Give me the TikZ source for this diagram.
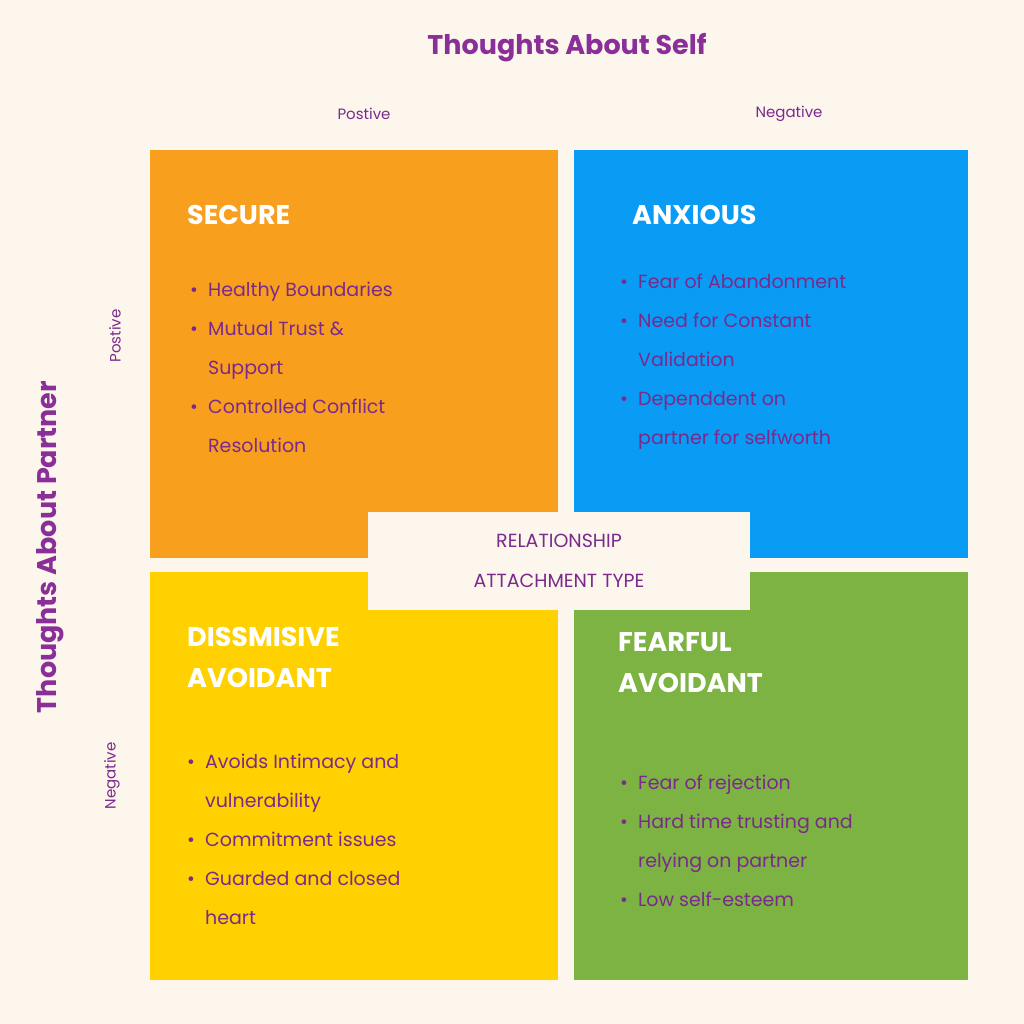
\documentclass[tikz,border=0pt]{standalone}
\usepackage{fontspec}
\setmainfont{Poppins}
\usetikzlibrary{positioning}
\definecolor{cream}{HTML}{FDF6EC}
\definecolor{titlepurple}{HTML}{8A2E98}
\definecolor{textpurple}{HTML}{7A2A8C}
\definecolor{secureorange}{HTML}{F89F1E}
\definecolor{anxiousblue}{HTML}{0A9BF4}
\definecolor{dismissyellow}{HTML}{FFD100}
\definecolor{fearfulgreen}{HTML}{7DB343}
\newcommand{\bodyfont}{\fontsize{19}{39}\selectfont}
\newcommand{\bl}{\textbullet}
\begin{document}
\begin{tikzpicture}
        [x=1pt,y=-1pt,
         every node/.style={inner sep=0pt},
         quadrant/.style={draw=none},
         heading/.style={anchor=north west,text=white,font=\fontsize{27}{41}\selectfont\bfseries,align=left},
         bodylist/.style={anchor=north west,text=textpurple,font=\bodyfont,align=left},
         axislabel/.style={text=textpurple,font=\fontsize{15}{18}\selectfont}]
        \useasboundingbox[fill=cream] (0,0) rectangle (1024,1024);
        % quadrants
        \fill[secureorange] (150,150) rectangle (558,558);
        \fill[anxiousblue] (574,150) rectangle (968,558);
        \fill[dismissyellow] (150,572) rectangle (558,980);
        \fill[fearfulgreen] (574,572) rectangle (968,980);
        \node[fill=cream,minimum width=382,minimum height=98] (center) at (559,561) {};
        \node[text=textpurple,font=\fontsize{19}{40}\selectfont,align=center] (ctext) at (center) {RELATIONSHIP\\ATTACHMENT TYPE};
        % axes
        \node[text=titlepurple,font=\fontsize{27}{30}\selectfont\bfseries] (selftitle) at (567,48) {Thoughts About Self};
        \node[text=titlepurple,font=\fontsize{27}{30}\selectfont\bfseries,rotate=90] (partnertitle) at (50,547) {Thoughts About Partner};
        \node[axislabel] (selfpos) at (364,114) {Postive};
        \node[axislabel] (selfneg) at (789,114) {Negative};
        \node[axislabel,rotate=90] (partpos) at (115,336) {Postive};
        \node[axislabel,rotate=90] (partneg) at (112,776) {Negative};
        % headings
        \node[heading] (secure) at (187,205) {SECURE};
        \node[heading] (anxious) at (632,205) {ANXIOUS};
        \node[heading] (dismiss) at (187,627) {DISSMISIVE\\AVOIDANT};
        \node[heading] (fearful) at (618,632) {FEARFUL\\AVOIDANT};
        % lists
        \node[bodylist] (securelist) at (190,282) {\bl\ \ Healthy Boundaries\\ \bl\ \ Mutual Trust \&\\ \phantom{\bl\ \ }Support\\ \bl\ \ Controlled Conflict\\ \phantom{\bl\ \ }Resolution};
        \node[bodylist] (anxiouslist) at (620,274) {\bl\ \ Fear of Abandonment\\ \bl\ \ Need for Constant\\ \phantom{\bl\ \ }Validation\\ \bl\ \ Dependdent on\\ \phantom{\bl\ \ }partner for selfworth};
        \node[bodylist] (dismisslist) at (187,754) {\bl\ \ Avoids Intimacy and\\ \phantom{\bl\ \ }vulnerability\\ \bl\ \ Commitment issues\\ \bl\ \ Guarded and closed\\ \phantom{\bl\ \ }heart};
        \node[bodylist] (fearfullist) at (620,775) {\bl\ \ Fear of rejection\\ \bl\ \ Hard time trusting and\\ \phantom{\bl\ \ }relying on partner\\ \bl\ \ Low self-esteem};
\end{tikzpicture}
\end{document}
